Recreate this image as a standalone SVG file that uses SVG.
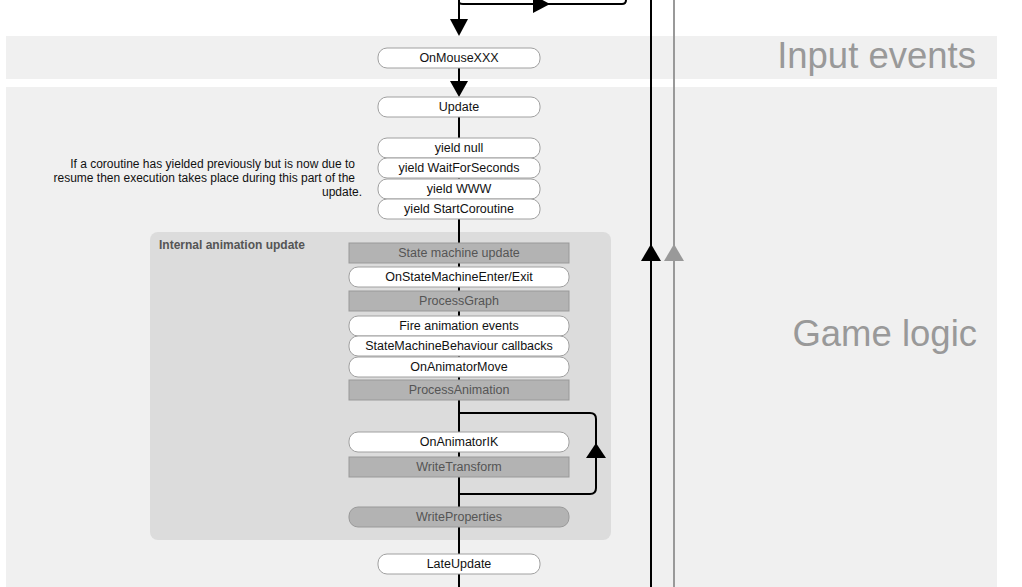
<svg xmlns="http://www.w3.org/2000/svg" width="1022" height="587" viewBox="0 0 1022 587">
<defs>
<style>
text{font-family:"Liberation Sans",Arial,sans-serif;font-size:12px}
.band{fill:#f0f0f0}
.title{font-size:36.5px;fill:#999;text-anchor:end}
.n{fill:#fff;stroke:#a0a0a0;stroke-width:1}
.g{fill:#b3b3b3;stroke:#999;stroke-width:1}
.t{fill:#111;text-anchor:middle;font-size:12.5px}
.tg{fill:#555;text-anchor:middle;font-size:12.5px}
.w{fill:none;stroke:#000;stroke-width:2}
.wg{fill:none;stroke:#999;stroke-width:2}
</style>
</defs>
<rect width="1022" height="587" fill="#fff"/>
<rect class="band" x="6" y="36" width="991" height="43"/>
<rect class="band" x="6" y="87" width="991" height="500"/>
<text class="title" x="976" y="68">Input events</text>
<text class="title" x="977" y="346">Game logic</text>
<g id="anim-group">
<rect x="150" y="232" width="461" height="308" rx="8" fill="#dcdcdc"/>
<text x="159" y="249" style="font-weight:bold;fill:#555">Internal animation update</text>
</g>
<g id="connectors">
<path class="w" d="M459,0V20"/>
<path d="M450,19L468,19L459,36z" fill="#000"/>
<path class="w" d="M459,0V2Q459,4 463,4H622Q626,4 626,0"/>
<path d="M533,-5L550,4L533,13z" fill="#000"/>
<path class="w" d="M459,68V82"/>
<path d="M450,81L468,81L459,97z" fill="#000"/>
<path class="w" d="M459,117V587"/>
<path class="w" d="M459,413H590Q596,413 596,419V488Q596,494 590,494H459"/>
<path d="M586,458L606,458L596,443z" fill="#000"/>
<path class="w" d="M651,0V587"/>
<path d="M641,261L661,261L651,244z" fill="#000"/>
<path class="wg" d="M674,0V587"/>
<path d="M664,261L684,261L674,244z" fill="#999"/>
</g>
<g id="OnMouseXXX"><rect class="n" x="378" y="48" width="162" height="20" rx="9"/><text class="t" x="459" y="62">OnMouseXXX</text></g>
<g id="Update"><rect class="n" x="378" y="97" width="162" height="20" rx="9"/><text class="t" x="459" y="111">Update</text></g>
<g id="yield-null"><rect class="n" x="378" y="138" width="162" height="20" rx="9"/><text class="t" x="459" y="152">yield null</text></g>
<g id="yield-wfs"><rect class="n" x="378" y="158" width="162" height="20" rx="9"/><text class="t" x="459" y="172">yield WaitForSeconds</text></g>
<g id="yield-www"><rect class="n" x="378" y="179" width="162" height="20" rx="9"/><text class="t" x="459" y="193">yield WWW</text></g>
<g id="yield-sc"><rect class="n" x="378" y="199" width="162" height="20" rx="9"/><text class="t" x="459" y="213">yield StartCoroutine</text></g>
<g id="note">
<text x="355" y="168" text-anchor="end" fill="#111">If a coroutine has yielded previously but is now due to</text>
<text x="355" y="182" text-anchor="end" fill="#111">resume then execution takes place during this part of the</text>
<text x="362" y="196" text-anchor="end" fill="#111">update.</text>
</g>
<g id="StateMachineUpdate"><rect class="g" x="349" y="243" width="220" height="20"/><text class="tg" x="459" y="257">State machine update</text></g>
<g id="OnStateMachineEnterExit"><rect class="n" x="349" y="267" width="220" height="20" rx="9"/><text class="t" x="459" y="281">OnStateMachineEnter/Exit</text></g>
<g id="ProcessGraph"><rect class="g" x="349" y="291" width="220" height="20"/><text class="tg" x="459" y="305">ProcessGraph</text></g>
<g id="FireAnimationEvents"><rect class="n" x="349" y="316" width="220" height="20" rx="9"/><text class="t" x="459" y="330">Fire animation events</text></g>
<g id="SMBCallbacks"><rect class="n" x="349" y="336" width="220" height="20" rx="9"/><text class="t" x="459" y="350">StateMachineBehaviour callbacks</text></g>
<g id="OnAnimatorMove"><rect class="n" x="349" y="357" width="220" height="20" rx="9"/><text class="t" x="459" y="371">OnAnimatorMove</text></g>
<g id="ProcessAnimation"><rect class="g" x="349" y="380" width="220" height="20"/><text class="tg" x="459" y="394">ProcessAnimation</text></g>
<g id="OnAnimatorIK"><rect class="n" x="349" y="432" width="220" height="20" rx="9"/><text class="t" x="459" y="446">OnAnimatorIK</text></g>
<g id="WriteTransform"><rect class="g" x="349" y="457" width="220" height="20"/><text class="tg" x="459" y="471">WriteTransform</text></g>
<g id="WriteProperties"><rect class="g" x="349" y="507" width="220" height="20" rx="9"/><text class="tg" x="459" y="521">WriteProperties</text></g>
<g id="LateUpdate"><rect class="n" x="378" y="554" width="162" height="20" rx="9"/><text class="t" x="459" y="568">LateUpdate</text></g>
</svg>
